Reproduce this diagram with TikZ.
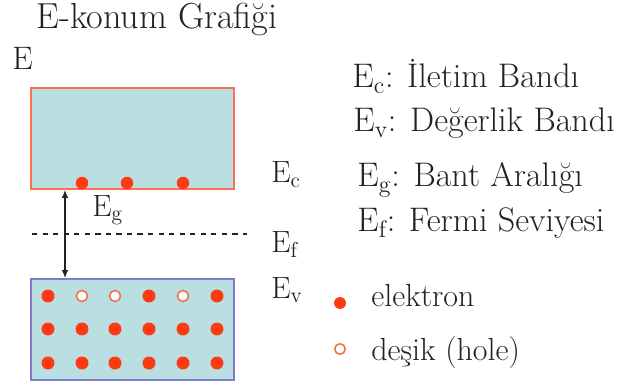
\documentclass[tikz,border=0pt]{standalone}
\usepackage{fontspec}
\usetikzlibrary{arrows.meta,positioning}
\definecolor{BandFill}{HTML}{B9DFE3}
\definecolor{CondEdge}{HTML}{FF6E4E}
\definecolor{ValEdge}{HTML}{7C7CCB}
\definecolor{Electron}{HTML}{FF3A12}
\definecolor{HoleRed}{HTML}{F2704F}
\definecolor{DarkText}{HTML}{222222}
\newcommand{\Esub}[1]{E\textsubscript{#1}}
\tikzset{
  band/.style={fill=BandFill, line width=0.9pt},
  elec/.style={fill=Electron, draw=none},
  hole/.style={draw=HoleRed, fill=white, line width=0.9pt},
  lbl/.style={anchor=base west, inner sep=0pt, text=DarkText, font=\fontsize{17.5}{20}\selectfont},
  key/.style={anchor=base west, inner sep=0pt, text=DarkText, font=\fontsize{19.4}{23}\selectfont},
  arr/.style={{Latex[length=1.6mm,width=1.3mm]}-{Latex[length=1.6mm,width=1.3mm]}, line width=0.6pt, draw=DarkText}
}

\begin{document}
\begin{tikzpicture}[x=0.02cm,y=-0.02cm]
\useasboundingbox (0,0) rectangle (626,385);
% title and axis letter
\node[key, font=\fontsize{20.6}{24}\selectfont] (title) at (36,29) {E-konum Grafiği};
\node[key, font=\fontsize{18.5}{22}\selectfont] (axisE) at (12,70) {E};
% bands
\draw[band, draw=CondEdge] (31,88) rectangle (234,189);
\draw[band, draw=ValEdge] (31,279) rectangle (234,380);
\foreach \x in {82,127,183}
  \fill[elec] (\x,183) circle[radius=1.25mm];
\foreach \y in {296,329,363}{
  \foreach \x/\c in {48/1,82/2,115/3,149/4,183/5,217/6}{
    \ifnum\y=296
      \ifnum\c=2 \draw[hole] (\x,\y) circle[radius=1.1mm];
      \else\ifnum\c=3 \draw[hole] (\x,\y) circle[radius=1.1mm];
      \else\ifnum\c=5 \draw[hole] (\x,\y) circle[radius=1.1mm];
      \else \fill[elec] (\x,\y) circle[radius=1.3mm];
      \fi\fi\fi
    \else
      \fill[elec] (\x,\y) circle[radius=1.3mm];
    \fi
  }
}
% gap and fermi level
\coordinate (gaptop) at (65,190);
\coordinate (gapbot) at (65,278);
\draw[arr] (gaptop) -- (gapbot);
\coordinate (fermiL) at (32,234);
\coordinate (fermiR) at (247,234);
\draw[dashed, line width=0.6pt, draw=DarkText] (fermiL) -- (fermiR);
\node[lbl] (eg) at (92,216) {\Esub{g}};
\node[lbl] (ec) at (271,183) {\Esub{c}};
\node[lbl] (ef) at (271,253) {\Esub{f}};
\node[lbl] (ev) at (271,298) {\Esub{v}};
% explanations
\node[key] (kc) at (352,88) {\Esub{c}: İletim Bandı};
\node[key] (kv) at (353,132) {\Esub{v}: Değerlik Bandı};
\node[key] (kg) at (357,187) {\Esub{g}: Bant Aralığı};
\node[key] (kf) at (357,232) {\Esub{f}: Fermi Seviyesi};
% legend
\fill[elec] (340,303) circle[radius=1.2mm];
\node[lbl, font=\fontsize{18.2}{21}\selectfont] (lelec) at (371,306) {elektron};
\draw[hole] (340,349) circle[radius=1.05mm];
\node[lbl, font=\fontsize{18.2}{21}\selectfont] (lhole) at (371,360) {deşik (hole)};
\end{tikzpicture}
\end{document}
